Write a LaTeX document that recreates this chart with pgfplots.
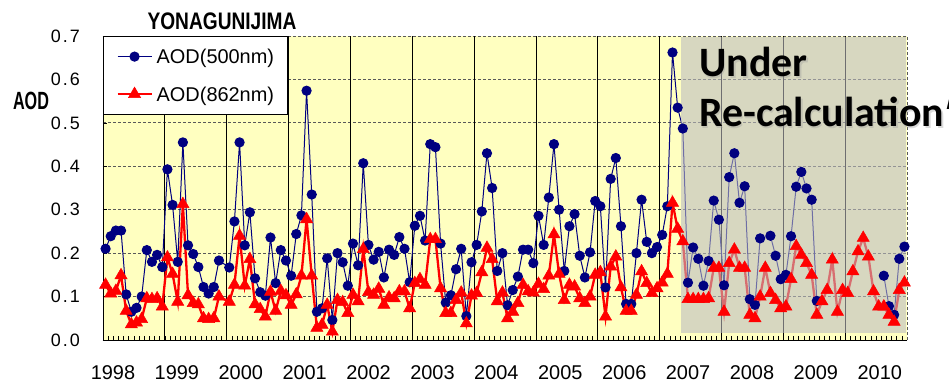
\documentclass[border=0pt]{standalone}
\usepackage{pgfplots}
\pgfplotsset{compat=1.18}
\usepackage{pgfplotstable}
\usepackage{fontspec}
\setmainfont{Liberation Sans}
\newfontfamily\carlito{Carlito}
\definecolor{axisyellow}{RGB}{255,255,192}
\definecolor{navyblue}{RGB}{0,0,128}
\definecolor{overlaygray}{RGB}{188,188,192}

\pgfplotstableread{
m v
0 0.210
1 0.239
2 0.252
3 0.252
4 0.105
5 0.065
6 0.074
7 0.100
8 0.207
9 0.180
10 0.196
11 0.168
12 0.393
13 0.311
14 0.180
15 0.455
16 0.218
17 0.198
18 0.168
19 0.122
20 0.107
21 0.122
22 0.183
24 0.167
25 0.273
26 0.455
27 0.218
28 0.294
29 0.142
30 0.110
31 0.102
32 0.236
33 0.131
34 0.207
35 0.183
36 0.148
37 0.244
38 0.287
39 0.574
40 0.335
41 0.065
42 0.073
43 0.188
44 0.046
45 0.200
46 0.179
47 0.125
48 0.222
49 0.172
50 0.407
51 0.219
52 0.185
53 0.203
54 0.144
55 0.208
56 0.196
57 0.237
58 0.210
59 0.133
60 0.263
61 0.286
62 0.229
63 0.451
64 0.444
65 0.222
66 0.086
67 0.103
68 0.163
69 0.210
70 0.055
71 0.179
72 0.219
73 0.296
74 0.430
75 0.350
76 0.159
77 0.200
78 0.080
79 0.115
80 0.146
81 0.208
82 0.208
83 0.177
84 0.286
85 0.219
86 0.328
87 0.451
88 0.300
89 0.159
90 0.262
91 0.290
92 0.194
93 0.144
94 0.202
95 0.320
96 0.308
97 0.121
98 0.371
99 0.419
100 0.262
101 0.083
102 0.083
103 0.200
104 0.323
105 0.226
106 0.200
107 0.214
108 0.242
109 0.308
110 0.662
111 0.535
112 0.487
113 0.132
114 0.213
115 0.187
116 0.125
117 0.182
118 0.321
119 0.277
120 0.126
121 0.375
122 0.430
123 0.316
124 0.354
125 0.094
126 0.081
127 0.234
129 0.240
130 0.194
131 0.140
132 0.150
133 0.239
134 0.353
135 0.387
136 0.349
137 0.323
138 0.090
139 nan
151 0.148
152 0.078
153 0.058
154 0.187
155 0.215
}\bluedata

\pgfplotstableread{
m v
0 0.127
1 0.107
2 0.113
3 0.149
4 0.067
5 0.036
6 0.040
7 0.048
8 0.096
9 0.094
10 0.096
11 0.077
12 0.190
13 0.152
14 0.088
15 0.313
16 0.103
17 0.085
18 0.082
19 0.050
20 0.048
21 0.050
22 0.100
24 0.088
25 0.127
26 0.240
27 0.125
28 0.186
29 0.082
30 0.071
31 0.054
32 0.111
33 0.067
34 0.113
35 0.103
36 0.081
37 0.105
38 0.148
39 0.278
40 0.148
41 0.028
42 0.035
43 0.081
44 0.019
45 0.092
46 0.087
47 0.062
48 0.104
49 0.089
50 0.209
51 0.110
52 0.104
53 0.118
54 0.081
55 0.098
56 0.096
57 0.112
58 0.112
59 0.073
60 0.131
61 0.140
62 0.127
63 0.232
64 0.232
65 0.119
66 0.062
67 0.062
68 0.092
69 0.109
70 0.038
71 0.102
72 0.108
73 0.156
74 0.212
75 0.186
76 0.089
77 0.109
78 0.050
79 0.065
80 0.085
81 0.127
82 0.112
83 0.109
84 0.129
85 0.117
86 0.148
87 0.243
88 0.152
89 0.092
90 0.127
91 0.123
92 0.096
93 0.085
94 0.100
95 0.150
96 0.156
97 0.054
98 0.169
99 0.192
100 0.121
101 0.067
102 0.067
103 0.104
104 0.158
105 0.131
106 0.108
107 0.119
108 0.132
109 0.152
110 0.316
111 0.256
112 0.227
113 0.094
114 0.094
115 0.094
116 0.094
117 0.096
118 0.166
119 0.166
120 0.065
121 0.177
122 0.208
123 0.166
124 0.166
125 0.058
126 0.050
127 0.100
128 0.166
129 0.108
130 0.092
131 0.073
132 0.077
133 0.140
134 0.216
135 0.196
136 0.177
137 0.150
138 0.058
139 0.089
140 0.115
141 0.185
142 0.065
143 0.115
144 0.108
145 0.158
146 0.204
147 0.235
148 0.192
149 0.112
150 0.077
151 0.077
152 0.058
153 0.042
154 0.115
155 0.132
}\reddata

\begin{document}
\begin{tikzpicture}
\path[use as bounding box] (-103bp,-42bp) rectangle (846bp,340bp);
\begin{axis}[
  at={(0,0)}, anchor=south west,
  scale only axis, width=804bp, height=304bp,
  xmin=0, xmax=156, ymin=0, ymax=0.7,
  axis lines*=left,
  axis line style={black, line width=0.8bp},
  axis background/.style={fill=axisyellow},
  clip=false,
  unbounded coords=jump,
  tick align=inside,
  major tick length=4bp, minor tick length=4bp,
  every tick/.style={black, line width=0.6bp},
  ytick={0,0.1,0.2,0.3,0.4,0.5,0.6,0.7},
  yticklabels={0\kern2bp.\kern2bp0,0\kern2bp.\kern2bp1,0\kern2bp.\kern2bp2,0\kern2bp.\kern2bp3,0\kern2bp.\kern2bp4,0\kern2bp.\kern2bp5,0\kern2bp.\kern2bp6,0\kern2bp.\kern2bp7},
  yticklabel style={font=\fontsize{18}{20}\selectfont, anchor=east, inner sep=0pt, xshift=-23bp},
  ymajorgrids,
  major grid style={dash pattern=on 3bp off 2bp, line width=0.8bp, color=black!65},
  xtick={1.94,14.34,26.74,39.13,51.53,63.93,76.33,88.73,101.13,113.52,125.92,138.32,150.72},
  xticklabels={1998,1999,2000,2001,2002,2003,2004,2005,2006,2007,2008,2009,2010},
  major x tick style={draw=none},
  xticklabel style={font=\fontsize{20}{22}\selectfont, anchor=base, inner sep=0pt, yshift=-39bp},
  minor xtick={1,2,3,4,5,6,7,8,9,10,11,12,13,14,15,16,17,18,19,20,21,22,23,24,25,26,27,28,29,30,31,32,33,34,35,36,37,38,39,40,41,42,43,44,45,46,47,48,49,50,51,52,53,54,55,56,57,58,59,60,61,62,63,64,65,66,67,68,69,70,71,72,73,74,75,76,77,78,79,80,81,82,83,84,85,86,87,88,89,90,91,92,93,94,95,96,97,98,99,100,101,102,103,104,105,106,107,108,109,110,111,112,113,114,115,116,117,118,119,120,121,122,123,124,125,126,127,128,129,130,131,132,133,134,135,136,137,138,139,140,141,142,143,144,145,146,147,148,149,150,151,152,153,154,155},
  extra x ticks={12,24,36,48,60,72,84,96,108,120,132,144},
  extra x tick labels={},
  extra x tick style={grid=major, major grid style={solid, black, line width=0.8bp}, major tick length=0pt},
  legend style={at={(0,1)}, anchor=north west, draw=black, line width=0.8bp, fill=white,
    inner xsep=13bp, inner ysep=13bp, row sep=23bp, column sep=4bp,
    font=\fontsize{20}{22}\selectfont,
    nodes={inner sep=0pt, text depth=0pt}},
  legend cell align=left,
  legend image code/.code={\draw[mark repeat=2, mark phase=2, #1] plot coordinates {(0bp,0bp) (17bp,0bp) (34bp,0bp)};},
]
\addplot[navyblue, line width=1bp, mark=*, mark size=4.6bp, mark options={solid, fill=navyblue, draw=navyblue}]
  table[x expr=\thisrow{m}+0.5, y=v] {\bluedata};
\addlegendentry{AOD(500nm)\hspace{30bp}}
\addplot[red, line width=2.3bp, mark=triangle*, mark size=7bp, mark options={solid, fill=red, draw=red, line width=0.5bp}]
  table[x expr=\thisrow{m}+0.5, y=v] {\reddata};
\addlegendentry{AOD(862nm)\hspace{30bp}}
\fill[overlaygray, opacity=0.59] (axis cs:112.15,0.016) rectangle (axis cs:155.9,0.697);
\draw[black!65, dash pattern=on 3bp off 2bp, line width=0.8bp] (axis cs:156,0) -- (axis cs:156,0.7);
\end{axis}
% title and labels
\node[font=\bfseries\fontsize{24}{26}\selectfont, xscale=0.8, anchor=center] at (119bp,319bp) {YONAGUNIJIMA};
\node[font=\bfseries\fontsize{25}{27}\selectfont, xscale=0.65, anchor=center] at (-72bp,239bp) {AOD};
\node[font=\bfseries\fontsize{25}{27}\selectfont, xscale=0.65, anchor=west] at (841bp,239bp) {AOD};
% Under re-calculation with soft shadow
\node[font=\carlito\bfseries\fontsize{42}{50}\selectfont, anchor=base west, inner sep=0pt, text=black!40, opacity=0.35] at (597.5bp,261.5bp) {Under};
\node[font=\carlito\bfseries\fontsize{42}{50}\selectfont, anchor=base west, inner sep=0pt, text=black!40, opacity=0.35] at (597.5bp,211.5bp) {Re-calculation};
\node[font=\carlito\bfseries\fontsize{42}{50}\selectfont, anchor=base west, inner sep=0pt] at (596bp,263bp) {Under};
\node[font=\carlito\bfseries\fontsize{42}{50}\selectfont, anchor=base west, inner sep=0pt] at (596bp,213bp) {Re-calculation};
\end{tikzpicture}
\end{document}
